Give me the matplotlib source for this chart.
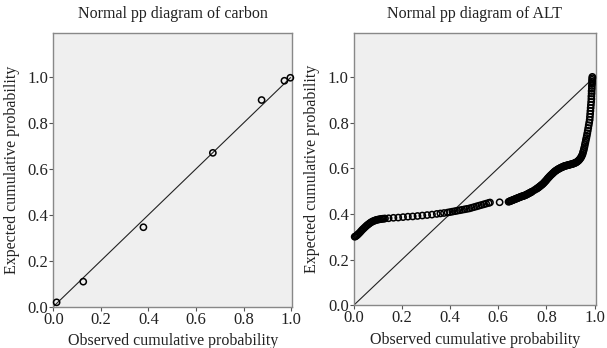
import matplotlib
matplotlib.use("Agg")
import matplotlib.pyplot as plt

plt.rcParams['font.family'] = ['Liberation Serif', 'DejaVu Serif']

# Carbon P-P data
carbon_obs = [0.014, 0.126, 0.379, 0.671, 0.876, 0.972, 0.997]
carbon_exp = [0.019, 0.109, 0.346, 0.670, 0.900, 0.984, 0.997]

# ALT P-P data, in segments along the curve
alt_obs_low = [0.004, 0.008, 0.012, 0.016, 0.020, 0.025, 0.030, 0.035, 0.040, 0.045,
               0.050, 0.055, 0.060, 0.065, 0.070, 0.075, 0.080, 0.085, 0.090, 0.095,
               0.100, 0.105, 0.110, 0.115, 0.120, 0.125, 0.130]
alt_exp_low = [0.300, 0.302, 0.305, 0.309, 0.313, 0.318, 0.324, 0.330, 0.335, 0.340,
               0.345, 0.350, 0.354, 0.358, 0.362, 0.365, 0.368, 0.370, 0.372, 0.374,
               0.375, 0.376, 0.377, 0.378, 0.379, 0.379, 0.380]

alt_obs_mid = [0.145, 0.165, 0.185, 0.205, 0.225, 0.245, 0.265, 0.285, 0.305, 0.325,
               0.345, 0.360, 0.375, 0.390,
               0.400, 0.410, 0.420, 0.430, 0.440, 0.450, 0.460, 0.470, 0.480, 0.490,
               0.500, 0.510, 0.520, 0.530, 0.540, 0.550, 0.560, 0.566,
               0.606]
alt_exp_mid = [0.381, 0.383, 0.384, 0.386, 0.388, 0.389, 0.391, 0.393, 0.395, 0.397,
               0.400, 0.402, 0.404, 0.406,
               0.408, 0.410, 0.412, 0.414, 0.416, 0.418, 0.420, 0.422, 0.424, 0.427,
               0.430, 0.433, 0.436, 0.439, 0.442, 0.445, 0.448, 0.450,
               0.451]

alt_obs_up = [0.643, 0.647, 0.650, 0.654, 0.657, 0.661, 0.664, 0.668, 0.671, 0.675,
              0.678, 0.682, 0.685, 0.689, 0.692, 0.696, 0.699, 0.703, 0.706, 0.710,
              0.713, 0.717, 0.720, 0.724, 0.727, 0.731, 0.734, 0.738, 0.741,
              0.750,
              0.758, 0.762, 0.765, 0.769, 0.772, 0.776, 0.779, 0.783, 0.786, 0.790,
              0.793, 0.797, 0.800, 0.804, 0.807, 0.811, 0.814, 0.818, 0.821, 0.825,
              0.828, 0.832, 0.835, 0.839, 0.842, 0.846, 0.849, 0.853, 0.856, 0.860,
              0.863, 0.867, 0.870, 0.874, 0.877, 0.881, 0.884, 0.888, 0.891, 0.895,
              0.898, 0.902, 0.905, 0.909, 0.912, 0.916, 0.919, 0.923, 0.926, 0.930,
              0.933, 0.936, 0.939, 0.942, 0.945, 0.947, 0.950]
alt_exp_up = [0.453, 0.455, 0.456, 0.458, 0.459, 0.461, 0.462, 0.464, 0.465, 0.467,
              0.468, 0.470, 0.471, 0.473, 0.474, 0.476, 0.477, 0.478, 0.479, 0.481,
              0.482, 0.484, 0.486, 0.488, 0.490, 0.492, 0.494, 0.496, 0.498,
              0.504,
              0.509, 0.512, 0.514, 0.517, 0.520, 0.523, 0.526, 0.529, 0.532, 0.536,
              0.540, 0.544, 0.548, 0.553, 0.557, 0.561, 0.565, 0.569, 0.572, 0.576,
              0.579, 0.583, 0.586, 0.589, 0.591, 0.594, 0.596, 0.598, 0.600, 0.602,
              0.604, 0.605, 0.607, 0.609, 0.610, 0.611, 0.612, 0.613, 0.614, 0.615,
              0.616, 0.617, 0.618, 0.619, 0.620, 0.622, 0.623, 0.625, 0.627, 0.630,
              0.633, 0.636, 0.640, 0.644, 0.649, 0.654, 0.660]

alt_obs_top = [0.952, 0.954, 0.956, 0.958, 0.960, 0.962, 0.964, 0.966, 0.968, 0.970,
               0.972, 0.974, 0.976, 0.978, 0.980, 0.981, 0.982, 0.983, 0.984, 0.985,
               0.986, 0.987, 0.987, 0.988, 0.988, 0.989, 0.989, 0.990, 0.990, 0.990,
               0.991, 0.991]
alt_exp_top = [0.668, 0.675, 0.683, 0.692, 0.702, 0.712, 0.722, 0.732, 0.742, 0.753,
               0.764, 0.776, 0.788, 0.800, 0.812, 0.825, 0.838, 0.851, 0.864, 0.877,
               0.890, 0.903, 0.915, 0.927, 0.938, 0.949, 0.960, 0.970, 0.979, 0.987,
               0.994, 1.000]

alt_obs = alt_obs_low + alt_obs_mid + alt_obs_up + alt_obs_top
alt_exp = alt_exp_low + alt_exp_mid + alt_exp_up + alt_exp_top

ticks = [0.0, 0.2, 0.4, 0.6, 0.8, 1.0]
tick_labels = ['0.0', '0.2', '0.4', '0.6', '0.8', '1.0']

fig = plt.figure(figsize=(6.07, 3.48), dpi=100)
ax1 = fig.add_axes([0.0878, 0.1187, 0.3937, 0.7865])
ax2 = fig.add_axes([0.5827, 0.1227, 0.3987, 0.7825])

def style(ax, title, line_end):
    ax.set_facecolor('#efefef')
    ax.plot([0, line_end], [0, line_end], color='#222222', lw=0.8, zorder=2)
    ax.set_xlim(0, 1.005)
    ax.set_ylim(0, 1.192)
    ax.set_xticks(ticks)
    ax.set_xticklabels(tick_labels)
    ax.set_yticks(ticks)
    ax.set_yticklabels(tick_labels)
    ax.tick_params(direction='out', length=3, width=0.8, color='#555555',
                   labelsize=12, pad=0.5, labelcolor='#222222')
    for s in ax.spines.values():
        s.set_color('#888888')
        s.set_linewidth(1.0)
    ax.set_title(title, fontsize=11.5, pad=10.5, color='#222222')
    ax.set_xlabel('Observed cumulative probability', fontsize=11.5, labelpad=4, color='#222222')
    ax.set_ylabel('Expected cumulative probability', fontsize=11.5, labelpad=5.5, color='#222222')

style(ax1, 'Normal pp diagram of carbon', 0.997)
style(ax2, 'Normal pp diagram of ALT', 0.988)

ax1.scatter(carbon_obs, carbon_exp, s=20, facecolors='none', edgecolors='black',
            linewidths=1.1, zorder=3, clip_on=False)
ax2.scatter(alt_obs, alt_exp, s=20, facecolors='none', edgecolors='black',
            linewidths=1.1, zorder=3, clip_on=False)

fig.savefig('out.png', dpi=100)
